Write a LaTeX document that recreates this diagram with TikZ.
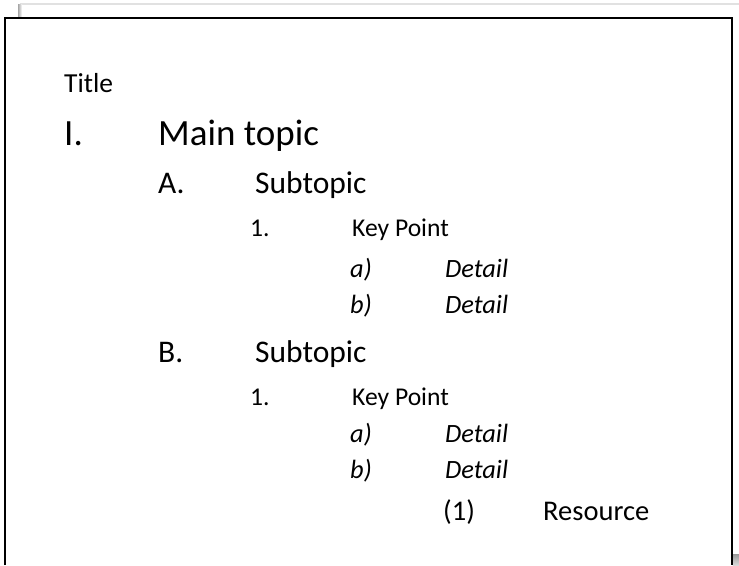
\documentclass[tikz,border=0pt]{standalone}
\usepackage{fontspec}
\setmainfont{Carlito}
\usepackage{xcolor}
\usetikzlibrary{positioning}
\definecolor{pageedge}{RGB}{225,225,225}
\tikzstyle{Entry} = [inner sep=0pt, anchor=base west, text=black]
\tikzstyle{TitleText} = [Entry, font=\fontsize{27.5}{33}\selectfont]
\tikzstyle{Level1} = [Entry, font=\fontsize{37}{44}\selectfont]
\tikzstyle{Level2} = [Entry, font=\fontsize{31.5}{38}\selectfont]
\tikzstyle{Level3} = [Entry, font=\fontsize{25.6}{31}\selectfont]
\tikzstyle{Level4} = [Entry, font=\fontsize{26.4}{32}\selectfont\itshape]
\tikzstyle{Level5} = [Entry, font=\fontsize{28.5}{34}\selectfont]

\begin{document}
\begin{tikzpicture}[x=1pt, y=-1pt]
        \useasboundingbox (0,0) rectangle (739,565);

        % page behind and shadows
        \draw[pageedge, line width=2] (20,3.5) -- (739,3.5);
        \fill[left color=gray!70, right color=white] (18,4) rectangle (22,17);
        \fill[top color=gray!80, bottom color=gray!30] (732.5,554) rectangle (739,565);

        % frame
        \draw[line width=2] (5,565) -- (5,18) -- (731.5,18) -- (731.5,565);

        \node[TitleText] (title) at (64,92.7) {Title};

        \node[Level1] (numI) at (64,145) {I.};
        \node[Level1] (main) at (158,145) {Main topic};

        \node[Level2] (numA) at (158,193) {A.};
        \node[Level2] (subA) at (255,193) {Subtopic};
        \node[Level3] (numAone) at (250,236) {1.};
        \node[Level3] (keyA) at (352,236) {Key Point};
        \node[Level4] (numAa) at (350,277) {a)};
        \node[Level4] (detAa) at (445,277) {Detail};
        \node[Level4] (numAb) at (350,313) {b)};
        \node[Level4] (detAb) at (445,313) {Detail};

        \node[Level2] (numB) at (158,362) {B.};
        \node[Level2] (subB) at (255,362) {Subtopic};
        \node[Level3] (numBone) at (250,405) {1.};
        \node[Level3] (keyB) at (352,405) {Key Point};
        \node[Level4] (numBa) at (350,442) {a)};
        \node[Level4] (detBa) at (445,442) {Detail};
        \node[Level4] (numBb) at (350,478) {b)};
        \node[Level4] (detBb) at (445,478) {Detail};
        \node[Level5] (numRes) at (443,520) {(1)};
        \node[Level5] (res) at (543,520) {Resource};
    \end{tikzpicture}
\end{document}
